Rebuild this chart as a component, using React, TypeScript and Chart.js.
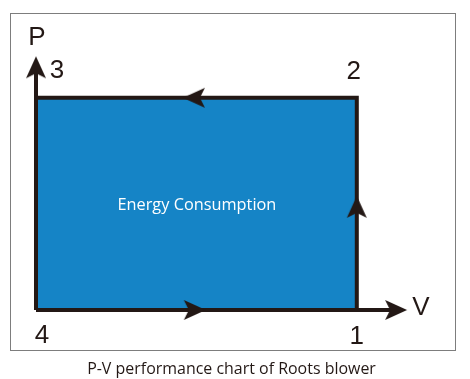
import React, { useEffect, useRef } from "react";
import { Chart, registerables } from "chart.js";

Chart.register(...registerables);

// Cycle states on the P-V diagram (V, P)
const cycleV = [8, 8, 0];
const cycleP = [0, 5, 5];
const stateLabels = ["1", "2", "3", "4"];
const stateV = [8, 8, 0, 0];
const stateP = [0, 5, 5, 0];
// axis extents
const axisVMax = 9.1;
const axisPMax = 5.6;
// direction arrows: V, P, angle (deg)
const arrowV = [3.94, 8, 3.96, 0, 8.98];
const arrowP = [5, 2.43, 0, 5.72, 0];
const arrowAngle = [180, -90, 0, -90, 0];
const axisNames = ["P", "V"];
const areaLabel = "Energy Consumption";
const caption = "P-V performance chart of Roots blower";

const INK = "#231815";
const BLUE = "#1584c6";

function makeArrow(): HTMLCanvasElement {
  const c = document.createElement("canvas");
  c.width = 24;
  c.height = 22;
  const g = c.getContext("2d")!;
  g.fillStyle = INK;
  g.beginPath();
  g.moveTo(23, 11);
  g.lineTo(1, 1);
  g.lineTo(6, 11);
  g.lineTo(1, 21);
  g.closePath();
  g.fill();
  return c;
}

const labelsPlugin = {
  id: "pvLabels",
  beforeDraw(chart: any) {
    const ctx = chart.ctx;
    ctx.save();
    ctx.strokeStyle = "#7d7d7d";
    ctx.lineWidth = 1;
    ctx.strokeRect(10.5, 13.5, 445, 337);
    ctx.restore();
  },
  afterDraw(chart: any) {
    const ctx = chart.ctx;
    const xs = chart.scales.x;
    const ys = chart.scales.y;
    const px = (v: number) => xs.getPixelForValue(v);
    const py = (p: number) => ys.getPixelForValue(p);
    ctx.save();
    ctx.fillStyle = INK;
    ctx.font = "26px 'Liberation Sans', Arial, sans-serif";
    ctx.textAlign = "center";
    ctx.textBaseline = "middle";
    const offs = [
      [0, 27],
      [-3, -26],
      [21, -27],
      [6, 26],
    ];
    stateLabels.forEach((t, i) => {
      ctx.fillText(t, px(stateV[i]) + offs[i][0], py(stateP[i]) + offs[i][1]);
    });
    ctx.fillText(axisNames[0], px(0) + 1, py(axisPMax) - 35);
    ctx.fillText(axisNames[1], px(axisVMax) + 20, py(0) - 2);

    // area label
    ctx.fillStyle = "#ffffff";
    let fs = 16;
    ctx.font = `${fs}px 'Open Sans', sans-serif`;
    fs = fs * 159 / ctx.measureText(areaLabel).width;
    ctx.font = `${fs}px 'Open Sans', sans-serif`;
    ctx.textBaseline = "alphabetic";
    ctx.fillText(areaLabel, (px(0) + px(cycleV[0])) / 2 + 0.5, 210);

    // caption
    ctx.fillStyle = INK;
    let cs = 16;
    ctx.font = `${cs}px 'Open Sans', sans-serif`;
    cs = cs * 289 / ctx.measureText(caption).width;
    ctx.font = `${cs}px 'Open Sans', sans-serif`;
    ctx.fillText(caption, 231.5, 374);
    ctx.restore();
  },
};

export default function App() {
  const ref = useRef<HTMLCanvasElement>(null);
  useEffect(() => {
    const arrow = makeArrow();
    const chart = new Chart(ref.current!, {
      type: "scatter",
      data: {
        datasets: [
          {
            data: [
              { x: 0, y: cycleP[2] },
              { x: cycleV[0], y: cycleP[1] },
            ],
            order: 10,
            showLine: true,
            borderWidth: 0,
            pointRadius: 0,
            backgroundColor: BLUE,
            fill: "origin",
            clip: false,
          } as any,
          {
            data: [
              { x: 0, y: 0 },
              { x: 0, y: axisPMax },
            ],
            order: 5,
            showLine: true,
            borderColor: INK,
            borderWidth: 4,
            pointRadius: 0,
            fill: false,
            clip: false,
          },
          {
            data: [
              { x: 0, y: 0 },
              { x: axisVMax, y: 0 },
            ],
            order: 5,
            showLine: true,
            borderColor: INK,
            borderWidth: 4,
            pointRadius: 0,
            fill: false,
            clip: false,
          },
          {
            data: cycleV.map((v, i) => ({ x: v, y: cycleP[i] })),
            order: 5,
            showLine: true,
            borderColor: INK,
            borderWidth: 4,
            borderCapStyle: "square",
            borderJoinStyle: "miter",
            pointRadius: 0,
            fill: false,
            clip: false,
          },
          {
            data: arrowV.map((v, i) => ({ x: v, y: arrowP[i] })),
            order: 0,
            showLine: false,
            pointStyle: arrow,
            rotation: arrowAngle,
            pointRadius: 11,
            clip: false,
          } as any,
        ],
      },
      options: {
        animation: false,
        responsive: false,
        events: [],
        layout: {
          autoPadding: false,
          padding: { left: 36, right: 33, top: 13, bottom: 69 },
        },
        scales: {
          x: { type: "linear", min: 0, max: 10, display: false },
          y: { type: "linear", min: 0, max: 7, display: false },
        },
        plugins: {
          legend: { display: false },
          tooltip: { enabled: false },
          title: { display: false },
        },
      },
      plugins: [labelsPlugin],
    });
    return () => chart.destroy();
  }, []);
  return (
    <canvas
      ref={ref}
      width={470}
      height={379}
      style={{ position: "fixed", left: 0, top: 0, width: 470, height: 379 }}
    />
  );
}
